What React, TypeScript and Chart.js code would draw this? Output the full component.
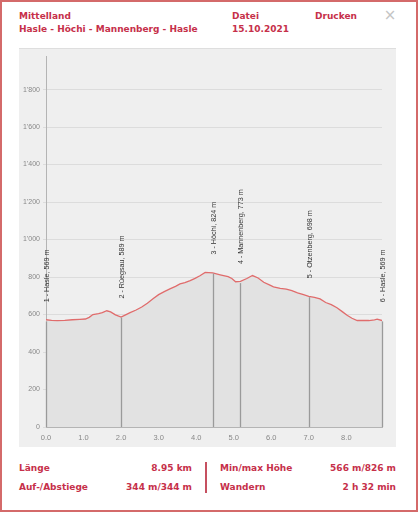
import React, { useEffect, useRef } from "react";
import { Chart, registerables } from "chart.js";

Chart.register(...registerables);

const profileKm = [0.0, 0.15, 0.3, 0.5, 0.7, 0.9, 1.05, 1.15, 1.25, 1.4, 1.5, 1.62, 1.72, 1.85, 2.0, 2.12, 2.24, 2.4, 2.55, 2.7, 2.85, 3.0, 3.15, 3.3, 3.45, 3.57, 3.7, 3.84, 3.97, 4.1, 4.24, 4.44, 4.64, 4.85, 4.95, 5.05, 5.18, 5.35, 5.5, 5.65, 5.8, 5.95, 6.06, 6.24, 6.4, 6.55, 6.7, 6.86, 7.0, 7.15, 7.3, 7.45, 7.6, 7.75, 7.9, 8.02, 8.15, 8.29, 8.45, 8.6, 8.75, 8.82, 8.95];
const profileElev = [572, 569, 567, 569, 572, 574, 576, 585, 600, 605, 610, 620, 614, 598, 586, 598, 610, 624, 640, 660, 684, 706, 722, 737, 750, 763, 770, 781, 793, 807, 825, 822, 812, 802, 792, 775, 777, 792, 808, 795, 772, 758, 748, 740, 736, 727, 716, 706, 697, 692, 683, 664, 653, 636, 614, 596, 580, 568, 568, 568, 572, 575, 568];

const waypointKm = [0, 2.0, 4.44, 5.18, 7.0, 8.95];
const waypointElev = [569, 589, 824, 773, 698, 569];
const waypointLabels = ["1 - Hasle, 569 m", "2 - Rüegsau, 589 m", "3 - Höchi, 824 m", "4 - Mannenberg, 773 m", "5 - Otzenberg, 698 m", "6 - Hasle, 569 m"];

const xTickValues = [0, 1, 2, 3, 4, 5, 6, 7, 8];
const yTickValues = [0, 200, 400, 600, 800, 1000, 1200, 1400, 1600, 1800];

const xMin = 0;
const xMax = 8.95;
const yMin = 0;
const yMax = 1978;

const headerTitle = "Mittelland";
const headerRoute = "Hasle - Höchi - Mannenberg - Hasle";
const headerFile = "Datei";
const headerDate = "15.10.2021";
const headerPrint = "Drucken";

const statLabelsLeft = ["Länge", "Auf-/Abstiege"];
const statValuesLeft = ["8.95 km", "344 m/344 m"];
const statLabelsRight = ["Min/max Höhe", "Wandern"];
const statValuesRight = ["566 m/826 m", "2 h 32 min"];

const RED = "#c6304a";
const FONT = "'DejaVu Sans', Verdana, sans-serif";

function fmtElev(v: number): string {
  if (v >= 1000) {
    const th = Math.floor(v / 1000);
    const rest = String(Math.round(v % 1000)).padStart(3, "0");
    return th + "'" + rest;
  }
  return String(v);
}

const waypointPlugin = {
  id: "waypoints",
  afterDatasetsDraw(chart: any) {
    const ctx = chart.ctx;
    const xs = chart.scales.x;
    const ys = chart.scales.y;
    const bottom = ys.getPixelForValue(0);
    ctx.save();
    for (let i = 0; i < waypointKm.length; i++) {
      const px = Math.round(xs.getPixelForValue(waypointKm[i])) + 0.5;
      const py = ys.getPixelForValue(waypointElev[i]);
      ctx.strokeStyle = "#9a9a9a";
      ctx.lineWidth = 1.3;
      ctx.beginPath();
      ctx.moveTo(px, py + 1);
      ctx.lineTo(px, bottom);
      ctx.stroke();
      ctx.save();
      ctx.translate(px + 0.5, py - 18);
      ctx.rotate(-Math.PI / 2);
      ctx.fillStyle = "#333";
      ctx.font = "7.2px 'Liberation Sans', Arial, sans-serif";
      ctx.textAlign = "left";
      ctx.textBaseline = "middle";
      ctx.fillText(waypointLabels[i], 0, 0);
      ctx.restore();
    }
    ctx.restore();
  },
};

function ProfileChart() {
  const ref = useRef<HTMLCanvasElement | null>(null);
  useEffect(() => {
    if (!ref.current) return;
    const points = profileKm.map((k, i) => ({ x: k, y: profileElev[i] }));
    const chart = new Chart(ref.current, {
      type: "line",
      data: {
        datasets: [
          {
            data: points,
            borderColor: "#e06c6c",
            borderWidth: 1.3,
            backgroundColor: "#e2e2e2",
            fill: "origin",
            pointRadius: 0,
            tension: 0,
          },
        ],
      },
      options: {
        animation: false,
        responsive: false,
        events: [],
        layout: { padding: { top: 6, right: 14, left: 0, bottom: 0 } },
        plugins: { legend: { display: false }, tooltip: { enabled: false } },
        scales: {
          x: {
            type: "linear",
            min: xMin,
            max: xMax,
            afterBuildTicks: (s: any) => {
              s.ticks = xTickValues.map((v) => ({ value: v }));
            },
            afterFit: (s: any) => {
              s.height = 20;
            },
            ticks: {
              autoSkip: false,
              maxRotation: 0,
              padding: 3,
              color: "#888",
              font: { family: "'Liberation Sans', Arial, sans-serif", size: 7.5 },
              callback: (v: any) => Number(v).toFixed(1),
            },
            grid: { display: false, drawTicks: true, tickLength: 3 },
            border: { display: true, color: "#b4b4b4" },
          },
          y: {
            type: "linear",
            min: yMin,
            max: yMax,
            afterBuildTicks: (s: any) => {
              s.ticks = yTickValues.map((v) => ({ value: v }));
            },
            afterFit: (s: any) => {
              s.width = 27;
            },
            ticks: {
              autoSkip: false,
              padding: 3,
              color: "#888",
              font: { family: "'Liberation Sans', Arial, sans-serif", size: 7 },
              callback: (v: any) => fmtElev(Number(v)),
            },
            grid: { color: "#dcdcdc", lineWidth: 1, drawTicks: true, tickLength: 3 },
            border: { display: true, color: "#b4b4b4" },
          },
        },
      },
      plugins: [waypointPlugin],
    } as any);
    return () => chart.destroy();
  }, []);
  return (
    <canvas
      ref={ref}
      width={377}
      height={398}
      style={{ position: "absolute", left: 19, top: 49, width: 377, height: 398, background: "#efefef" }}
    />
  );
}

const txt = (left: number, baseline: number, s: string) => (
  <div
    style={{
      position: "absolute",
      left,
      top: baseline - 8.35,
      fontFamily: FONT,
      fontWeight: "bold",
      fontSize: 9,
      lineHeight: "normal",
      color: RED,
      whiteSpace: "nowrap",
    }}
  >
    {s}
  </div>
);

const txtR = (right: number, baseline: number, s: string) => (
  <div
    style={{
      position: "absolute",
      left: right - 200,
      width: 200,
      textAlign: "right",
      top: baseline - 8.35,
      fontFamily: FONT,
      fontWeight: "bold",
      fontSize: 9,
      lineHeight: "normal",
      color: RED,
      whiteSpace: "nowrap",
    }}
  >
    {s}
  </div>
);

export default function App() {
  return (
    <div
      style={{
        position: "fixed",
        left: 0,
        top: 0,
        width: 418,
        height: 512,
        background: "#fff",
        overflow: "hidden",
      }}
    >
      <div
        style={{
          position: "absolute",
          left: 0,
          top: 0,
          width: 414,
          height: 508,
          border: "2px solid #d46a6a",
        }}
      />
      {txt(19, 19, headerTitle)}
      {txt(19, 32, headerRoute)}
      {txt(232, 19, headerFile)}
      {txt(232, 32, headerDate)}
      {txt(315, 19, headerPrint)}
      <div
        style={{
          position: "absolute",
          left: 382,
          top: 5,
          width: 16,
          textAlign: "center",
          fontFamily: FONT,
          fontSize: 15,
          lineHeight: "20px",
          color: "#c4c4c4",
        }}
      >
        ×
      </div>
      <div style={{ position: "absolute", left: 19, top: 48, width: 377, height: 1, background: "#dedede" }} />
      <ProfileChart />
      {txt(19, 471.5, statLabelsLeft[0])}
      {txt(19, 490, statLabelsLeft[1])}
      {txtR(192, 471.5, statValuesLeft[0])}
      {txtR(192, 490, statValuesLeft[1])}
      <div style={{ position: "absolute", left: 205, top: 462, width: 2, height: 31, background: "#c65060" }} />
      {txt(220, 471.5, statLabelsRight[0])}
      {txt(220, 490, statLabelsRight[1])}
      {txtR(396, 471.5, statValuesRight[0])}
      {txtR(396, 490, statValuesRight[1])}
    </div>
  );
}
